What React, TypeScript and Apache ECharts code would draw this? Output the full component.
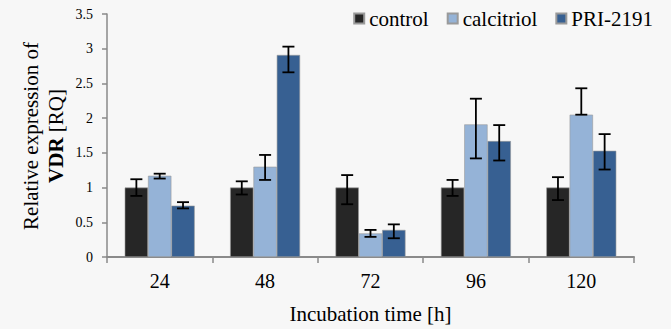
import React, { useEffect, useRef } from "react";
import * as echarts from "echarts";

const categories = ["24", "48", "72", "96", "120"];
const seriesNames = ["control", "calcitriol", "PRI-2191"];
const controlValues = [1.0, 1.0, 1.0, 1.0, 1.0];
const calcitriolValues = [1.17, 1.3, 0.34, 1.91, 2.05];
const priValues = [0.74, 2.91, 0.39, 1.67, 1.53];
const controlLow = [0.88, 0.9, 0.76, 0.88, 0.82];
const controlHigh = [1.12, 1.09, 1.18, 1.11, 1.15];
const calcitriolLow = [1.13, 1.11, 0.29, 1.42, 2.05];
const calcitriolHigh = [1.2, 1.47, 0.39, 2.28, 2.43];
const priLow = [0.7, 2.66, 0.27, 1.39, 1.26];
const priHigh = [0.79, 3.03, 0.47, 1.9, 1.77];
const yTicks = [0, 0.5, 1, 1.5, 2, 2.5, 3, 3.5];

const colors = ["#262626", "#95B3D7", "#376092"];
const FONT = "'Liberation Serif', 'Times New Roman', serif";
const GAP = 0.336;

export default function App() {
  const ref = useRef<HTMLDivElement>(null);
  useEffect(() => {
    if (!ref.current) return;
    const chart = echarts.init(ref.current, null, { renderer: "svg" });
    const values = [controlValues, calcitriolValues, priValues];
    const lows = [controlLow, calcitriolLow, priLow];
    const highs = [controlHigh, calcitriolHigh, priHigh];

    const barSeries = values.map((v, i) => ({
      name: seriesNames[i],
      type: "bar",
      data: v,
      barGap: "0%",
      barCategoryGap: GAP * 100 + "%",
      itemStyle: { color: colors[i], borderColor: "#9a9a9a", borderWidth: 0.6 },
      z: 2,
    }));

    const errSeries = values.map((v, i) => ({
      type: "custom",
      name: "err" + i,
      silent: true,
      z: 5,
      data: categories.map((_, k) => [k, lows[i][k], highs[i][k]]),
      renderItem: (params: any, api: any) => {
        const k = api.value(0);
        const lo = api.coord([k, api.value(1)]);
        const hi = api.coord([k, api.value(2)]);
        const band = api.size([1, 0])[0];
        const bw = (band * (1 - GAP)) / 3;
        const x = lo[0] + (i - 1) * bw;
        const cap = 6;
        const st = { stroke: "#000", lineWidth: 1.8 };
        return {
          type: "group",
          children: [
            { type: "line", shape: { x1: x, y1: lo[1], x2: x, y2: hi[1] }, style: st },
            { type: "line", shape: { x1: x - cap, y1: hi[1], x2: x + cap, y2: hi[1] }, style: st },
            { type: "line", shape: { x1: x - cap, y1: lo[1], x2: x + cap, y2: lo[1] }, style: st },
          ],
        };
      },
    }));

    chart.setOption({
      animation: false,
      backgroundColor: "#f7f7f7",
      textStyle: { fontFamily: FONT },
      legend: {
        data: seriesNames,
        right: 13,
        top: 3,
        itemWidth: 10,
        itemHeight: 10,
        itemGap: 18,
        icon: "rect",
        textStyle: { fontFamily: FONT, fontSize: 21, color: "#000" },
      },
      grid: { left: 107, right: 37, top: 14, bottom: 69.5 },
      xAxis: {
        type: "category",
        data: categories,
        name: "Incubation time [h]",
        nameLocation: "middle",
        nameGap: 46,
        nameTextStyle: { fontFamily: FONT, fontSize: 21, color: "#000" },
        axisLine: { lineStyle: { color: "#8a8a8a", width: 2 } },
        axisTick: { show: true, length: 6, alignWithLabel: false, lineStyle: { color: "#8a8a8a", width: 1.5 } },
        axisLabel: { fontFamily: FONT, fontSize: 20, color: "#000", margin: 14 },
      },
      yAxis: {
        type: "value",
        min: 0,
        max: 3.5,
        interval: 0.5,
        axisLine: { show: true, lineStyle: { color: "#8a8a8a", width: 1.5 } },
        axisTick: { show: true, length: 5, lineStyle: { color: "#8a8a8a", width: 1.5 } },
        splitLine: { show: false },
        axisLabel: {
          fontFamily: FONT,
          fontSize: 14,
          color: "#000",
          margin: 14,
          formatter: (v: number) => (yTicks.includes(v) ? String(v) : ""),
        },
      },
      graphic: [
        {
          type: "text",
          x: 43,
          y: 136,
          rotation: Math.PI / 2,
          style: {
            text: "{a|Relative expression of}\n{b|VDR}{a| [RQ]}",
            align: "center",
            verticalAlign: "middle",
            rich: {
              a: { fontFamily: FONT, fontSize: 21, lineHeight: 25, fill: "#000" },
              b: { fontFamily: FONT, fontSize: 21, lineHeight: 25, fontWeight: "bold", fill: "#000" },
            },
          },
        },
      ],
      series: [...barSeries, ...errSeries],
    });
    return () => chart.dispose();
  }, []);
  return <div ref={ref} style={{ width: 671, height: 329, position: "absolute", left: 0, top: 0 }} />;
}
